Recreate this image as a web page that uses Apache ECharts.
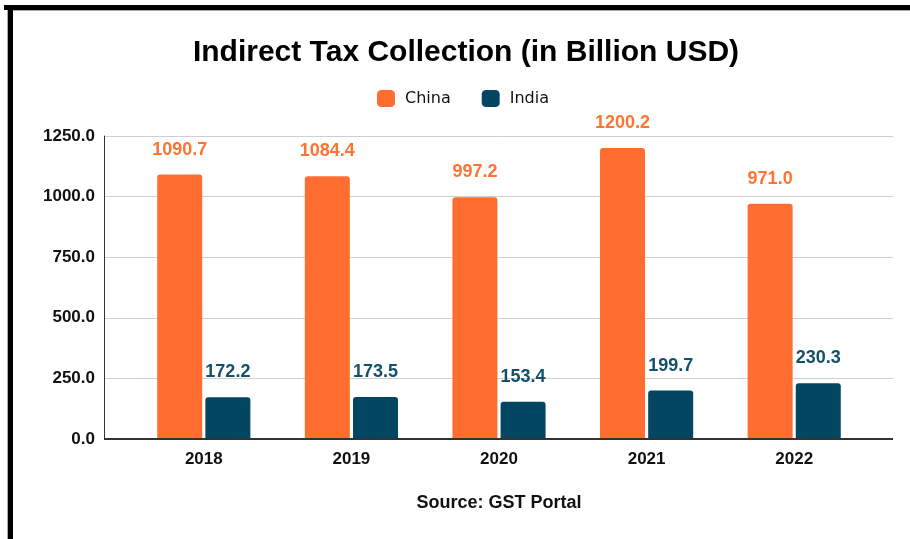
<!DOCTYPE html>
<html>
<head>
<meta charset="utf-8">
<script src="https://cdn.jsdelivr.net/npm/echarts@6/dist/echarts.min.js"></script>
<style>
  html, body { margin: 0; padding: 0; background: #fff; }
  #chart { width: 910px; height: 539px; }
</style>
</head>
<body>
<div id="chart"></div>
<script>
// Indirect tax collection, billion USD
const years = ['2018', '2019', '2020', '2021', '2022'];
const china = [1090.7, 1084.4, 997.2, 1200.2, 971.0];
const india = [172.2, 173.5, 153.4, 199.7, 230.3];
const yTicks = [0, 250, 500, 750, 1000, 1250];

const ORANGE = '#FF6D31';
const NAVY = '#034661';
const FONT = '"Liberation Sans", Arial, sans-serif';
const LEGEND_FONT = '"DejaVu Sans", sans-serif';

const yMax = yTicks[yTicks.length - 1];
const yStep = yTicks[1] - yTicks[0];

const chart = echarts.init(document.getElementById('chart'), null, { renderer: 'canvas' });

const valueLabel = (color) => ({
  show: true,
  position: 'top',
  distance: 16,
  color: color,
  fontFamily: FONT,
  fontWeight: 'bold',
  fontSize: 18,
  formatter: (p) => p.value.toFixed(1)
});

chart.setOption({
  animation: false,
  backgroundColor: '#fff',
  legend: {
    top: 85,
    left: 372,
    itemWidth: 18,
    itemHeight: 17,
    itemGap: 31,
    icon: 'roundRect',
    textStyle: { fontFamily: LEGEND_FONT, fontSize: 16, color: '#111', padding: [0, 0, 0, 5] },
    data: ['China', 'India']
  },
  grid: [
    // frame grid: y axis, split lines and baseline
    { left: 104, right: 17, top: 136, bottom: 100 },
    // inner grid holding the bars, inset from the frame
    { left: 130, right: 42, top: 136, bottom: 100 }
  ],
  xAxis: [
    {
      gridIndex: 0,
      type: 'value',
      min: 0, max: 1,
      axisLine: { show: false },
      axisTick: { show: false },
      axisLabel: { show: false },
      splitLine: { show: false }
    },
    {
      gridIndex: 1,
      type: 'category',
      data: years,
      axisLine: { show: false },
      axisTick: { show: false },
      axisLabel: {
        margin: 12,
        fontFamily: FONT, fontWeight: 'bold', fontSize: 17, color: '#111'
      }
    }
  ],
  yAxis: [
    {
      gridIndex: 0,
      type: 'value',
      min: 0, max: yMax, interval: yStep,
      axisLine: { show: true, lineStyle: { color: '#333', width: 1 } },
      axisTick: { show: false },
      axisLabel: {
        margin: 9,
        fontFamily: FONT, fontWeight: 'bold', fontSize: 17, color: '#111',
        formatter: (v) => v.toFixed(1)
      },
      splitLine: { show: true, lineStyle: { color: '#cfcfcf', width: 1 } }
    },
    {
      gridIndex: 1,
      type: 'value',
      min: 0, max: yMax, interval: yStep,
      show: false,
      splitLine: { show: false }
    }
  ],
  series: [
    {
      name: 'China',
      type: 'bar',
      xAxisIndex: 1, yAxisIndex: 1,
      data: china,
      barWidth: 45,
      barGap: '7%',
      itemStyle: { color: ORANGE, borderRadius: [3, 3, 0, 0] },
      label: valueLabel('#FF7333')
    },
    {
      name: 'India',
      type: 'bar',
      xAxisIndex: 1, yAxisIndex: 1,
      data: india,
      barWidth: 45,
      barGap: '7%',
      itemStyle: { color: NAVY, borderRadius: [3, 3, 0, 0] },
      label: valueLabel('#14506B')
    },
    {
      // baseline across the frame grid
      type: 'line',
      xAxisIndex: 0, yAxisIndex: 0,
      data: [[0, 0], [1, 0]],
      symbol: 'none',
      silent: true,
      lineStyle: { color: '#333', width: 2 },
      z: 5
    }
  ],
  graphic: [
    { type: 'rect', shape: { x: 4, y: 5, width: 906, height: 5 }, style: { fill: '#000' }, z: 100 },
    { type: 'rect', shape: { x: 13, y: 10, width: 897, height: 1 }, style: { fill: '#aaa' }, z: 100 },
    { type: 'rect', shape: { x: 8, y: 5, width: 5, height: 534 }, style: { fill: '#000' }, z: 100 },
    { type: 'rect', shape: { x: 7, y: 10, width: 1, height: 529 }, style: { fill: '#aaa' }, z: 100 },
    {
      // chart title
      type: 'text',
      x: 466,
      y: 53,
      style: {
        text: 'Indirect Tax Collection (in Billion USD)',
        align: 'center',
        verticalAlign: 'middle',
        fontFamily: FONT, fontWeight: 'bold', fontSize: 30, fill: '#000'
      }
    },
    {
      // source note
      type: 'text',
      x: 499,
      y: 503,
      style: {
        text: 'Source: GST Portal',
        align: 'center',
        verticalAlign: 'middle',
        fontFamily: FONT, fontWeight: 'bold', fontSize: 18, fill: '#111'
      }
    }
  ]
});
</script>
</body>
</html>
